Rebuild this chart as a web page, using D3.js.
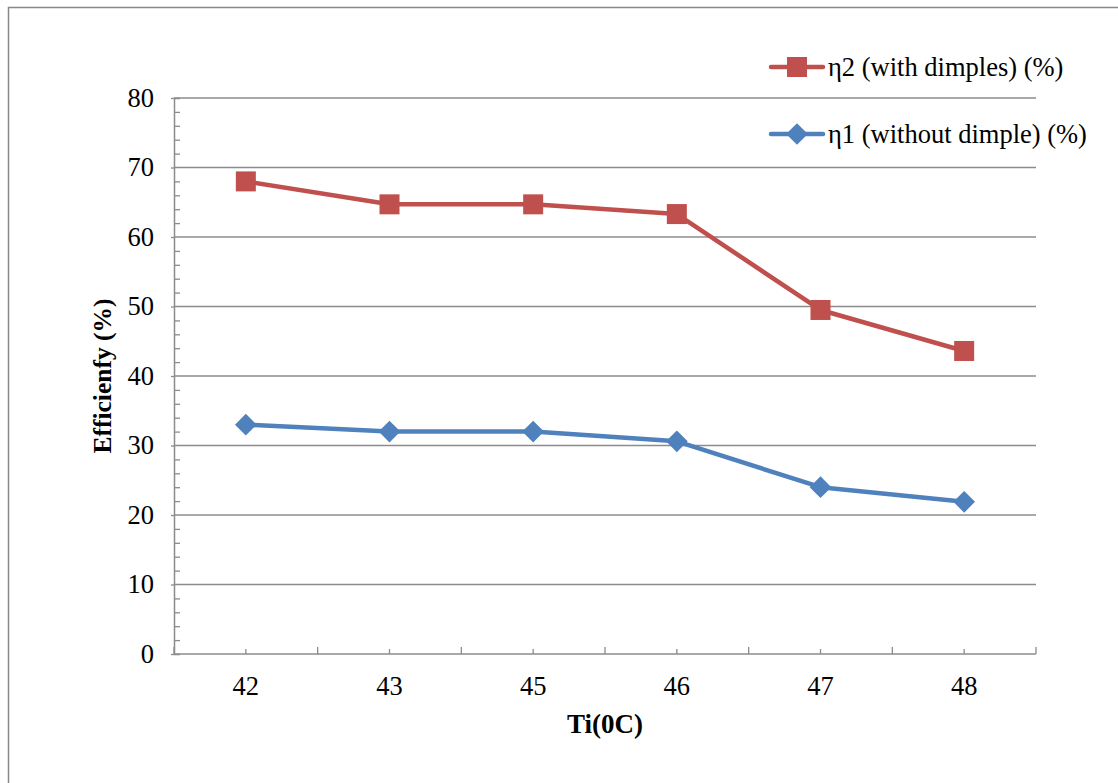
<!DOCTYPE html>
<html>
<head>
<meta charset="utf-8">
<script src="https://cdn.jsdelivr.net/npm/d3@7"></script>
<style>
  body { margin: 0; background: #fff; }
</style>
</head>
<body>
<div id="chart"></div>
<script>
// data
const categories = ["42", "43", "45", "46", "47", "48"];
const eta2 = [68, 64.7, 64.7, 63.3, 49.5, 43.6];
const eta1 = [33, 32, 32, 30.6, 24, 21.9];
const yTicks = [0, 10, 20, 30, 40, 50, 60, 70, 80];
const seriesNames = ["η2 (with dimples) (%)", "η1 (without dimple) (%)"];

const width = 1118, height = 783;
const margin = {top: 98, right: 82, bottom: 129, left: 174};
const FONT = "Liberation Serif";

const svg = d3.select("#chart").append("svg")
    .attr("width", width).attr("height", height)
    .attr("font-family", FONT);

// outer chart frame (cut off at right and bottom)
svg.append("rect")
    .attr("x", 8.5).attr("y", 7.5)
    .attr("width", 1200).attr("height", 900)
    .attr("fill", "#fff").attr("stroke", "#888").attr("stroke-width", 1.5);

const x = d3.scaleBand()
    .domain(categories)
    .range([margin.left, width - margin.right]);

const y = d3.scaleLinear()
    .domain([0, 80])
    .range([height - margin.bottom, margin.top]);

// gridlines
svg.append("g")
    .selectAll("line")
    .data(yTicks.slice(1))
    .join("line")
    .attr("x1", margin.left).attr("x2", width - margin.right)
    .attr("y1", d => y(d)).attr("y2", d => y(d))
    .attr("stroke", "#8c8c8c").attr("stroke-width", 1.3);

// y axis with minor ticks inside
const yAxis = svg.append("g")
    .attr("transform", `translate(${margin.left},0)`)
    .call(d3.axisLeft(y).tickValues(d3.range(0, 81, 2)).tickSize(-6).tickFormat(""));
yAxis.select(".domain").attr("stroke", "#8c8c8c").attr("stroke-width", 1.5);
yAxis.selectAll(".tick line").attr("stroke", "#8c8c8c").attr("stroke-width", 1.3)
    .filter(d => d % 10 === 0).attr("x2", -3);

svg.append("g")
    .selectAll("text")
    .data(yTicks)
    .join("text")
    .attr("font-family", FONT)
    .attr("x", margin.left - 20)
    .attr("y", d => y(d))
    .attr("dy", "0.33em")
    .attr("text-anchor", "end")
    .attr("font-size", 26.5)
    .text(d => d);

// x axis: major ticks at band edges, minor at centers, pointing up
const xAxisG = svg.append("g")
    .attr("transform", `translate(0,${height - margin.bottom})`);
xAxisG.append("line")
    .attr("x1", margin.left).attr("x2", width - margin.right)
    .attr("stroke", "#8c8c8c").attr("stroke-width", 1.5);
const edges = categories.map(c => x(c)).concat([x.range()[1]]);
xAxisG.selectAll(".major")
    .data(edges)
    .join("line")
    .attr("x1", d => d).attr("x2", d => d)
    .attr("y1", 0).attr("y2", -7)
    .attr("stroke", "#8c8c8c").attr("stroke-width", 1.3);
xAxisG.selectAll(".minor")
    .data(categories)
    .join("line")
    .attr("x1", d => x(d) + x.bandwidth() / 2).attr("x2", d => x(d) + x.bandwidth() / 2)
    .attr("y1", 0).attr("y2", -5)
    .attr("stroke", "#8c8c8c").attr("stroke-width", 1.3);
xAxisG.selectAll("text")
    .data(categories)
    .join("text")
    .attr("font-family", FONT)
    .attr("x", d => x(d) + x.bandwidth() / 2)
    .attr("y", 41)
    .attr("text-anchor", "middle")
    .attr("font-size", 26.5)
    .text(d => d);

// axis titles
svg.append("text")
    .attr("font-family", FONT)
    .attr("transform", `translate(111,${(y(0) + y(80)) / 2}) rotate(-90)`)
    .attr("text-anchor", "middle")
    .attr("font-size", 25.5)
    .attr("font-weight", "bold")
    .text("Efficienfy (%)");

svg.append("text")
    .attr("font-family", FONT)
    .attr("x", (x.range()[0] + x.range()[1]) / 2)
    .attr("y", 733)
    .attr("text-anchor", "middle")
    .attr("font-size", 27)
    .attr("font-weight", "bold")
    .text("Ti(0C)");

const cx = d => x(d) + x.bandwidth() / 2;
const line = d3.line().x((d, i) => cx(categories[i])).y(d => y(d));

const red = "#c0504d", blue = "#4f81bd";

// η2 series
svg.append("path")
    .datum(eta2)
    .attr("fill", "none").attr("stroke", red).attr("stroke-width", 4.5)
    .attr("stroke-linejoin", "round")
    .attr("d", line);
svg.append("g")
    .selectAll("rect")
    .data(eta2)
    .join("rect")
    .attr("x", (d, i) => cx(categories[i]) - 10)
    .attr("y", d => y(d) - 10)
    .attr("width", 20).attr("height", 20)
    .attr("fill", red);

// η1 series
const diamond = d3.symbol().type(d3.symbolDiamond2).size(300);
svg.append("path")
    .datum(eta1)
    .attr("fill", "none").attr("stroke", blue).attr("stroke-width", 4.5)
    .attr("stroke-linejoin", "round")
    .attr("d", line);
svg.append("g")
    .selectAll("path")
    .data(eta1)
    .join("path")
    .attr("transform", (d, i) => `translate(${cx(categories[i])},${y(d)})`)
    .attr("d", diamond)
    .attr("fill", blue);

// legend
const legend = svg.append("g");
const legendItems = [
  {name: seriesNames[0], color: red, y: 67, shape: "square"},
  {name: seriesNames[1], color: blue, y: 134, shape: "diamond"}
];
legendItems.forEach(it => {
  legend.append("line")
      .attr("x1", 771).attr("x2", 823)
      .attr("y1", it.y).attr("y2", it.y)
      .attr("stroke", it.color).attr("stroke-width", 4.5)
      .attr("stroke-linecap", "round");
  if (it.shape === "square") {
    legend.append("rect")
        .attr("x", 787).attr("y", it.y - 10)
        .attr("width", 20).attr("height", 20)
        .attr("fill", it.color);
  } else {
    legend.append("path")
        .attr("transform", `translate(797,${it.y})`)
        .attr("d", diamond)
        .attr("fill", it.color);
  }
  legend.append("text")
      .attr("font-family", FONT)
      .attr("x", 828).attr("y", it.y)
      .attr("dy", "0.33em")
      .attr("font-size", 26.5)
      .text(it.name);
});
</script>
</body>
</html>
